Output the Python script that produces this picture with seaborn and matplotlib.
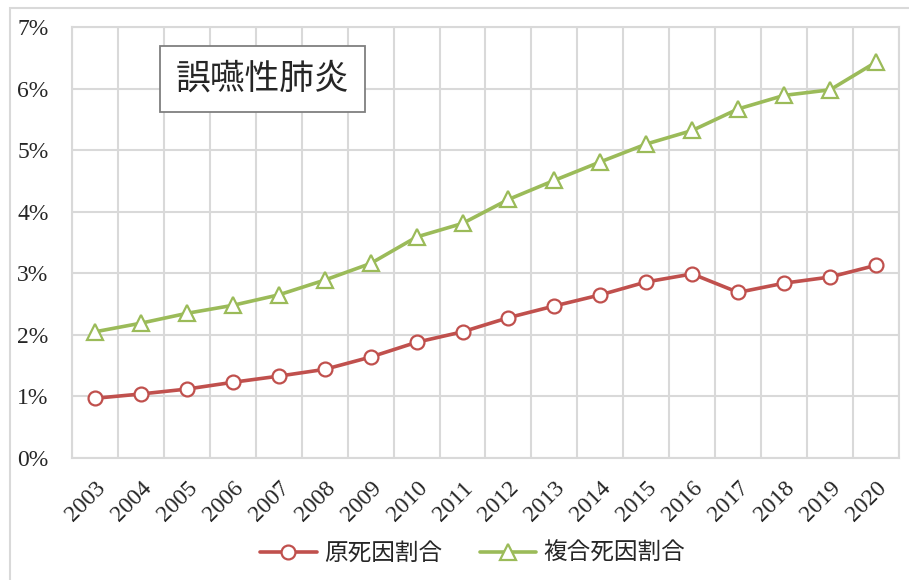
import numpy as np
import pandas as pd
import matplotlib
matplotlib.use("Agg")
import matplotlib.pyplot as plt
import seaborn as sns
from matplotlib.patches import Rectangle
from matplotlib.ticker import FuncFormatter

sns.set_theme(style="white")
plt.rcParams['font.family'] = ['Liberation Serif', 'Noto Sans CJK JP']

years = [str(y) for y in range(2003, 2021)]
primary = [0.97, 1.04, 1.12, 1.23, 1.33, 1.44, 1.64, 1.88, 2.05, 2.28,
           2.47, 2.65, 2.86, 2.99, 2.69, 2.84, 2.94, 3.13]
multiple = [2.05, 2.19, 2.35, 2.48, 2.65, 2.89, 3.16, 3.59, 3.81, 4.20,
            4.51, 4.81, 5.10, 5.32, 5.67, 5.89, 5.98, 6.43]
series_names = ["原死因割合", "複合死因割合"]
title_text = "誤嚥性肺炎"

RED = "#C0504D"
GREEN = "#9BBB59"
GRID = "#D9D9D9"

pos = np.arange(len(years))

fig, ax = plt.subplots(figsize=(9.09, 5.80), dpi=100)
fig.subplots_adjust(left=0.0792, right=0.989, top=0.9534, bottom=0.2103)

sns.lineplot(x=pos, y=primary, ax=ax, color=RED, linewidth=2.6,
             marker="o", markersize=10, markerfacecolor="white",
             markeredgecolor=RED, markeredgewidth=1.6, label=series_names[0])
sns.lineplot(x=pos, y=multiple, ax=ax, color=GREEN, linewidth=2.6,
             marker="^", markersize=11, markerfacecolor="white",
             markeredgecolor=GREEN, markeredgewidth=1.6, label=series_names[1])

ax.set_xlim(-0.5, len(years) - 0.5)
ax.set_ylim(0, 7)
ax.set_yticks(range(0, 8))
ax.yaxis.set_major_formatter(FuncFormatter(lambda v, _: f"{v:.0f}%"))
ax.set_xticks(pos)
ax.set_xticklabels(years, rotation=45, ha="right", rotation_mode="anchor")
ax.set_xticks(np.arange(-0.5, len(years), 1.0), minor=True)

ax.grid(False)
ax.grid(axis="y", which="major", color=GRID, linewidth=1.5)
ax.grid(axis="x", which="minor", color=GRID, linewidth=1.5)
ax.tick_params(axis="both", which="both", length=0)
ax.tick_params(axis="y", labelsize=17, pad=17)
ax.tick_params(axis="x", labelsize=17, pad=14)
for s in ax.spines.values():
    s.set_color(GRID)
    s.set_linewidth(1.5)
ax.set_xlabel("")
ax.set_ylabel("")

ax.text(0.23, 0.88, title_text, transform=ax.transAxes, fontsize=25,
        ha="center", va="center", family=['Noto Sans CJK JP'],
        bbox=dict(boxstyle="square,pad=0.45", facecolor="white",
                  edgecolor="#7F7F7F", linewidth=1.3))

ax.get_legend().remove()
handles, labels = ax.get_legend_handles_labels()
fig.legend(handles, labels, loc="center", bbox_to_anchor=(0.52, 0.046),
           ncol=2, frameon=False, handlelength=2.4,
           columnspacing=1.6, handletextpad=0.3,
           prop={'family': ['Noto Sans CJK JP'], 'size': 17})

fig.patches.append(Rectangle((10 / 909, -0.1), 1.2, (580 - 8) / 580 + 0.1,
                             transform=fig.transFigure, fill=False,
                             edgecolor=GRID, linewidth=1.5))

fig.savefig("out.png", dpi=100)
